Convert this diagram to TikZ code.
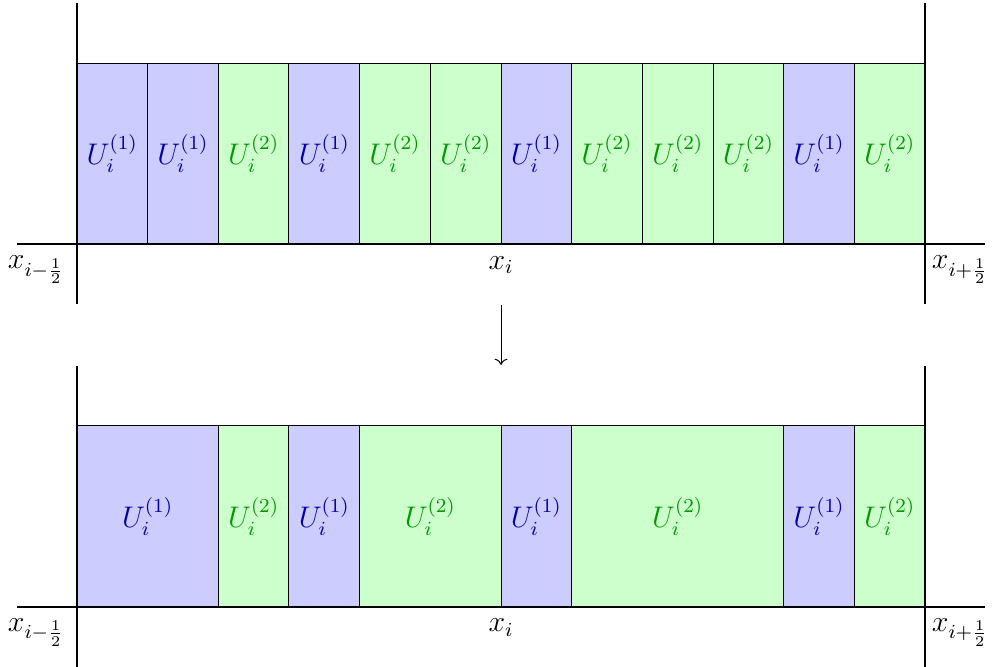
\documentclass[tikz,border=0pt]{standalone}
\usepackage{amsmath}
\usetikzlibrary{arrows.meta}
\colorlet{fillone}{blue!20}
\colorlet{filltwo}{green!20}
\colorlet{textone}{blue!65!black}
\colorlet{texttwo}{green!60!black}

\tikzset{
  cell1/.style={fill=fillone, draw=black, thin},
  cell2/.style={fill=filltwo, draw=black, thin},
  lab1/.style={text=textone},
  lab2/.style={text=texttwo},
  axis/.style={thick}
}

\begin{document}
\begin{tikzpicture}[every node/.style={font=\large}]
    \useasboundingbox (-1.089, 3.453) rectangle (12.947, -5.973);

    % before: twelve equal cells
    \foreach \k/\t in {0/1, 1/1, 2/2, 3/1, 4/2, 5/2, 6/1, 7/2, 8/2, 9/2, 10/1, 11/2} {
      \draw[cell\t] (\k, 0) rectangle (\k+1, 2.56);
      \node[lab\t] (top\k) at (\k+0.5, 1.28) {$U_i^{(\t)}$};
    }
    \draw[axis] (-0.85, 0) -- (12.85, 0);
    \draw[axis] (0, -0.85) -- (0, 3.41);
    \draw[axis] (12, -0.85) -- (12, 3.41);
    \node[anchor=north east, inner sep=2pt] (topl) at (-0.1, -0.09) {$x_{i-\frac{1}{2}}$};
    \node[anchor=north] (topm) at (6, -0.05) {$x_i$};
    \node[anchor=north west, inner sep=2pt] (topr) at (0.02+12, -0.09) {$x_{i+\frac{1}{2}}$};

    \coordinate (from) at (6, -0.86);
    \coordinate (to) at (6, -1.71);
    \draw[->] (from) -- (to);

    % after: merged cells
    \begin{scope}[yshift=-5.13cm]
      \foreach \a/\b/\t in {0/2/1, 2/3/2, 3/4/1, 4/6/2, 6/7/1, 7/10/2, 10/11/1, 11/12/2} {
        \draw[cell\t] (\a, 0) rectangle (\b, 2.56);
        \node[lab\t] (bot\a) at (0.5*\a+0.5*\b, 1.28) {$U_i^{(\t)}$};
      }
      \draw[axis] (-0.85, 0) -- (12.85, 0);
      \draw[axis] (0, -0.85) -- (0, 3.41);
      \draw[axis] (12, -0.85) -- (12, 3.41);
      \node[anchor=north east, inner sep=2pt] (botl) at (-0.1, -0.09) {$x_{i-\frac{1}{2}}$};
      \node[anchor=north] (botm) at (6, -0.05) {$x_i$};
      \node[anchor=north west, inner sep=2pt] (botr) at (0.02+12, -0.09) {$x_{i+\frac{1}{2}}$};
    \end{scope}
\end{tikzpicture}
\end{document}
